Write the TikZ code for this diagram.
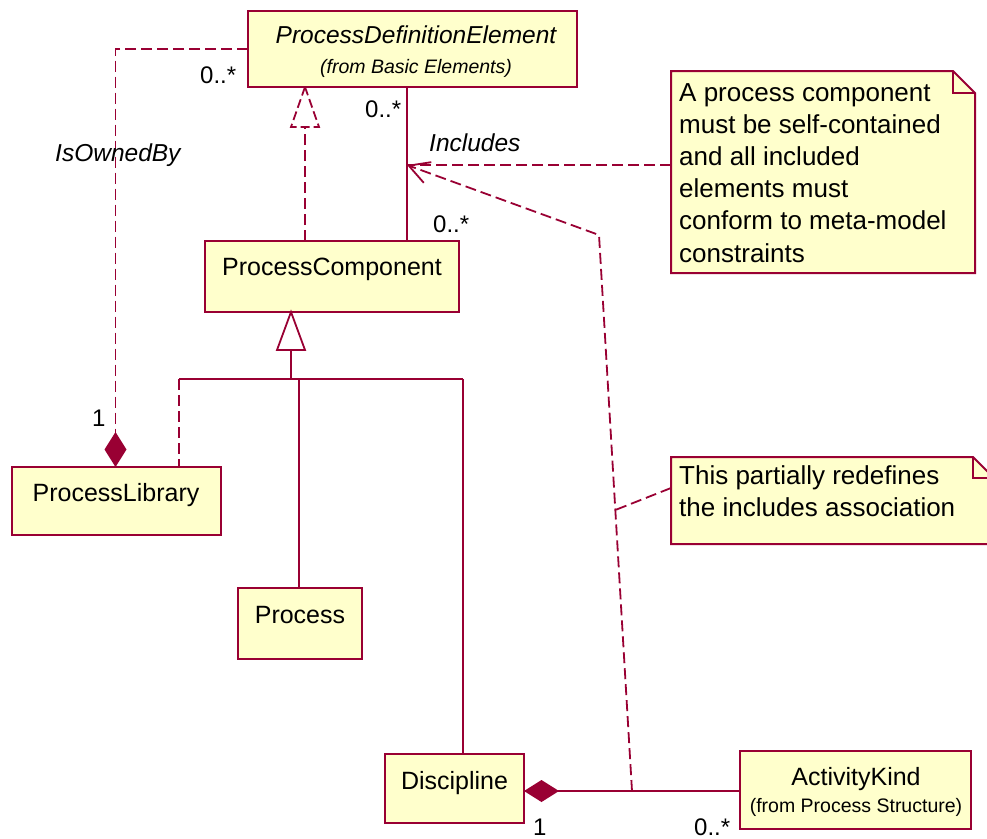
\documentclass[tikz,border=0pt]{standalone}
\usepackage{fontspec}
\setmainfont{Liberation Sans}
\usetikzlibrary{arrows.meta,calc}
\definecolor{umlred}{RGB}{153,0,51}
\definecolor{umlfill}{RGB}{255,255,204}
\begin{document}
\begin{tikzpicture}[x=1pt,y=-1pt,
  classbox/.style={draw=umlred, fill=umlfill, line width=2pt, inner sep=0pt, outer sep=0pt},
  notearea/.style={inner sep=0pt, outer sep=0pt},
  noteline/.style={draw=umlred, fill=umlfill, line width=2pt, line join=miter},
  conn/.style={draw=umlred, line width=1.8pt},
  dashconn/.style={conn, dash pattern=on 11pt off 5pt},
  cname/.style={font=\fontsize{25}{30}\selectfont, anchor=base, inner sep=0pt},
  aname/.style={font=\fontsize{24.5}{30}\selectfont\itshape, anchor=base, inner sep=0pt},
  origin/.style={font=\fontsize{19.5}{24}\selectfont, anchor=base, inner sep=0pt},
  mult/.style={font=\fontsize{24}{30}\selectfont, anchor=base west, inner sep=0pt},
  rolelabel/.style={font=\fontsize{24.5}{30}\selectfont\itshape, anchor=base west, inner sep=0pt},
  notetext/.style={font=\fontsize{26}{30}\selectfont, anchor=base west, inner sep=0pt},
  comp/.style={-{Diamond[length=35pt,width=22pt,fill=umlred,color=umlred]}},
  depend/.style={-{Straight Barb[length=20pt,width=22pt,line width=1.8pt]}}
]
\useasboundingbox (0,0) rectangle (987,838);

% ---------- classes ----------
\node[classbox, minimum width=329pt, minimum height=76pt] (pde) at (412.5,49) {};
\node[aname] (pdename) at (416,43) {ProcessDefinitionElement};
\node[origin, font=\fontsize{19.5}{24}\selectfont\itshape] (pdeorig) at (416,73) {(from Basic Elements)};

\node[classbox, minimum width=254pt, minimum height=71pt] (pc) at (332,276.5) {};
\node[cname] (pcname) at (332,275) {ProcessComponent};

\node[classbox, minimum width=209pt, minimum height=68pt] (lib) at (116.5,501) {};
\node[cname] (libname) at (116,501) {ProcessLibrary};

\node[classbox, minimum width=124pt, minimum height=71pt] (proc) at (300,623.5) {};
\node[cname] (procname) at (300,623) {Process};

\node[classbox, minimum width=139pt, minimum height=69pt] (disc) at (454.5,788.5) {};
\node[cname] (discname) at (454.5,789) {Discipline};

\node[classbox, minimum width=231pt, minimum height=78pt] (ak) at (855.5,790) {};
\node[cname] (akname) at (856,785) {ActivityKind};
\node[origin] (akorig) at (856,812) {(from Process Structure)};

% ---------- notes ----------
\node[notearea, minimum width=304pt, minimum height=202pt] (note1) at (823,172) {};
\path[noteline] (note1.north west) -- ([xshift=-22pt]note1.north east)
  -- ([yshift=-22pt]note1.north east) -- (note1.south east) -- (note1.south west) -- cycle;
\draw[noteline, fill=none] ([xshift=-22pt]note1.north east) -- ++(0,22) -- ([yshift=-22pt]note1.north east);
\foreach \t [count=\i] in {A process component, must be self-contained, and all included,
  elements must, conform to meta-model, constraints}
  \node[notetext] (note1l\i) at (679,{101+32.2*(\i-1)}) {\t};

\node[notearea, minimum width=323pt, minimum height=87pt] (note2) at (832.5,500.5) {};
\path[noteline] (note2.north west) -- ([xshift=-21pt]note2.north east)
  -- ([yshift=-21pt]note2.north east) -- (note2.south east) -- (note2.south west) -- cycle;
\draw[noteline, fill=none] ([xshift=-21pt]note2.north east) -- ++(0,21) -- ([yshift=-21pt]note2.north east);
\node[notetext] (note2l1) at (679,484) {This partially redefines};
\node[notetext] (note2l2) at (679,516) {the includes association};

% ---------- reference lines ----------
\coordinate (xown) at (115.5,0);
\coordinate (xreal) at (305,0);
\coordinate (xinc) at (407,0);
\coordinate (xgen) at (291,0);
\coordinate (xlib) at (179,0);
\coordinate (xproc) at (299,0);
\coordinate (xdisc) at (463,0);
\coordinate (ybus) at (0,379);
\coordinate (ycomp) at (0,791);
\coordinate (inc) at (407,165);
\coordinate (jc) at (632,791);
\coordinate (bend) at (599,235);

% IsOwnedBy composition
\draw[dashconn, comp] (pde.west) -| (lib.north -| xown);
\node[rolelabel] (owned) at (55,161) {IsOwnedBy};
\node[mult] (m1) at (200,83) {0..*};
\node[mult] (m2) at (92,426) {1};

% realization ProcessComponent -> ProcessDefinitionElement
\draw[dashconn] (pc.north -| xreal) -- ($(pde.south -| xreal)+(0,40)$);
\draw[dashconn, dash pattern=on 9pt off 4pt, line join=miter] (pde.south -| xreal) -- ++(-14,40) -- ++(28,0) -- cycle;

% Includes association
\draw[conn] (pde.south -| xinc) -- (pc.north -| xinc);
\node[mult] (m3) at (365,117) {0..*};
\node[rolelabel] (incl) at (429,151) {Includes};
\node[mult] (m4) at (433,232) {0..*};

% generalization tree
\draw[conn, line join=miter] (pc.south -| xgen) -- ++(-14,38) -- ++(28,0) -- cycle;
\draw[conn] ($(pc.south -| xgen)+(0,38)$) -- (xgen |- ybus);
\draw[conn] (xlib |- ybus) -- (xdisc |- ybus);
\draw[dashconn] (xlib |- ybus) -- (lib.north -| xlib);
\draw[conn] (xproc |- ybus) -- (proc.north -| xproc);
\draw[conn] (xdisc |- ybus) -- (disc.north -| xdisc);

% Discipline <>-- ActivityKind
\draw[conn, comp] (ak.west |- ycomp) -- (disc.east |- ycomp);
\node[mult] (m5) at (533,835) {1};
\node[mult] (m6) at (694,835) {0..*};

% redefinition dependency and note anchors
\draw[dashconn, depend] (jc) -- (bend) -- (inc);
\draw[dashconn] (note1.west |- inc) -- (inc);
\draw[dashconn] ([yshift=12.5pt]note2.west) -- ($(bend)!0.4946!(jc)$);
\end{tikzpicture}
\end{document}
